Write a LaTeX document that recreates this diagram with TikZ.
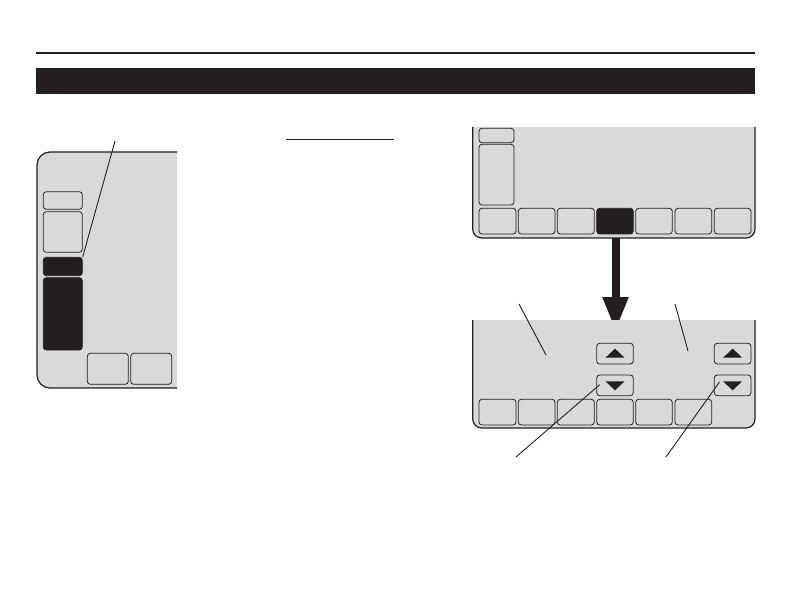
\documentclass[tikz,border=0pt]{standalone}
\usetikzlibrary{arrows.meta}
\definecolor{ink}{HTML}{231F20}
\definecolor{lcd}{HTML}{D9D9D9}
\tikzset{
  screen/.style={fill=lcd, draw=ink, line width=1.2pt, rounded corners=#1},
  btn/.style={draw=ink, line width=0.8pt, rounded corners=3pt, fill=lcd, inner sep=0pt},
  btnblack/.style={btn, fill=ink},
  leader/.style={draw=ink, line width=0.9pt},
  tri/.style={fill=ink, draw=none}
}
\newcommand\bx[6]{\node[#6, minimum width={(#4)-(#2)}, minimum height={(#5)-(#3)}] (#1) at ({((#2)+(#4))/2},{((#3)+(#5))/2}) {};}
\begin{document}
\begin{tikzpicture}[x=1pt,y=-1pt]
\useasboundingbox (0,0) rectangle (792,612);
% header
\coordinate (hl) at (36,53); \coordinate (hr) at (755,53);
\draw[ink, line width=1.3pt] (hl) -- (hr);
\fill[ink] (36,68) rectangle (755,94);
% underline
\coordinate (ul) at (286,139.5); \coordinate (ur) at (394,139.5);
\draw[ink, line width=1.3pt] (ul) -- (ur);
% left panel
\filldraw[screen=13pt] (177,152) -- (37,152) -- (37,388) -- (177,388);
\bx{ls1}{43.3}{191.7}{82.3}{209.3}{btn}
\bx{ls2}{43.3}{211.7}{82.3}{252.3}{btn}
\bx{lb1}{43.3}{257.3}{82.3}{275.7}{btnblack}
\bx{lb2}{43.3}{277.7}{82.3}{350}{btnblack}
\bx{lk1}{87.3}{353.3}{128.3}{384.3}{btn}
\bx{lk2}{130.7}{353.3}{171.7}{384.3}{btn}
\coordinate (lc1) at (115,141);
\draw[leader] (lc1) -- (lb1.north east);
% top right screen
\filldraw[screen=9pt] (472.7,127) -- (472.7,238) -- (755,238) -- (755,127);
\bx{ts1}{479}{128.3}{514}{142.7}{btn}
\bx{ts2}{479}{144.3}{514}{205}{btn}
\bx{tk1}{479}{208.3}{516}{234}{btn}
\bx{tk2}{518.3}{208.3}{555}{234}{btn}
\bx{tk3}{557.3}{208.3}{594.3}{234}{btn}
\bx{tk4}{596.7}{208.3}{633.3}{234}{btnblack}
\bx{tk5}{635.7}{208.3}{672.3}{234}{btn}
\bx{tk6}{675}{208.3}{711.7}{234}{btn}
\bx{tk7}{714.3}{208.3}{751}{234}{btn}
% arrow
\coordinate (as) at (615.5,238.5);
\coordinate (ae) at (615.5,331);
\draw[ink, line width=8pt, -{Triangle[length=34pt,width=24pt]}] (as) -- (ae);
% bottom right screen
\filldraw[screen=9pt] (472.7,320) -- (472.7,428) -- (755,428) -- (755,320);
\bx{up1}{596.7}{343.3}{633.3}{364}{btn}
\bx{dn1}{596.7}{375}{633.3}{395.7}{btn}
\bx{up2}{714.3}{343.3}{751}{364}{btn}
\bx{dn2}{714.3}{375}{751}{395.7}{btn}
\foreach \n in {up1,up2}{
  \fill[ink] ([xshift=-9.5pt,yshift=-4pt]\n.center) -- ([xshift=9.5pt,yshift=-4pt]\n.center) -- ([yshift=5pt]\n.center) -- cycle;}
\foreach \n in {dn1,dn2}{
  \fill[ink] ([xshift=-9.5pt,yshift=4pt]\n.center) -- ([xshift=9.5pt,yshift=4pt]\n.center) -- ([yshift=-5pt]\n.center) -- cycle;}
\bx{bk1}{479}{399.3}{516}{425}{btn}
\bx{bk2}{518.3}{399.3}{555}{425}{btn}
\bx{bk3}{557.3}{399.3}{594.3}{425}{btn}
\bx{bk4}{596.7}{399.3}{633.3}{425}{btn}
\bx{bk5}{635.7}{399.3}{672.3}{425}{btn}
\bx{bk6}{675}{399.3}{711.7}{425}{btn}
% leaders
\coordinate (c1a) at (519,304); \coordinate (c1b) at (546,355);
\coordinate (c2a) at (675,304); \coordinate (c2b) at (688,351);
\coordinate (c3a) at (516,457);
\coordinate (c4a) at (666,457);
\draw[leader] (c1a) -- (c1b);
\draw[leader] (c2a) -- (c2b);
\draw[leader] (c3a) -- ([xshift=3.5pt,yshift=11.5pt]dn1.south west);
\draw[leader] (c4a) -- ([xshift=5.5pt,yshift=14pt]dn2.south west);
\end{tikzpicture}
\end{document}
